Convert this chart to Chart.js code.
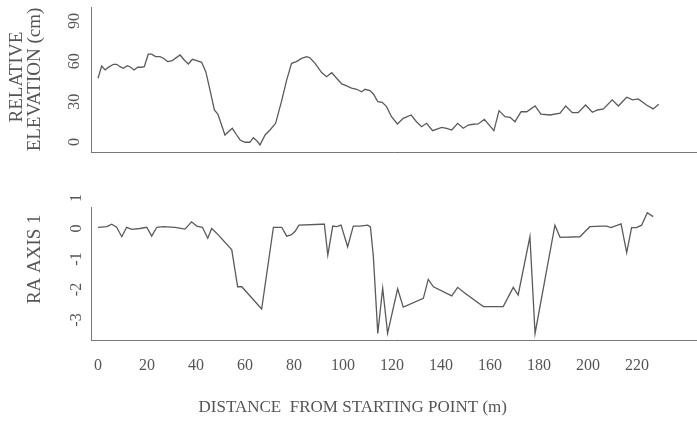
<!DOCTYPE html>
<html><head><meta charset="utf-8">
<script src="https://cdn.jsdelivr.net/npm/chart.js@4.4.1/dist/chart.umd.min.js"></script>
<style>
html,body{margin:0;padding:0;background:#fff;}
#wrap{position:relative;width:697px;height:422px;overflow:hidden;}
#c1{position:absolute;left:0;top:0;}
#c2{position:absolute;left:0;top:180px;}
</style></head><body>
<div id="wrap"><canvas id="c1" width="697" height="160"></canvas><canvas id="c2" width="697" height="242"></canvas></div>
<script>
// Top panel: relative elevation (cm) vs distance (m)
const distElev = [0,1.5,2.9,4.2,6.3,7.6,9.0,10.3,12.0,13.3,14.7,16.2,17.6,18.9,20.5,21.9,23.5,25.3,26.7,28.4,30.3,33.5,35.2,36.9,38.5,40.3,42.3,44.0,45.7,47.5,48.9,50.2,51.8,54.8,56.6,58.0,60.0,62.0,63.4,64.8,66.1,68.2,70.2,72.5,75.0,77.0,79.0,81.0,83.1,85.2,86.5,88.6,91.3,93.3,95.4,97.4,99.5,101.5,103.5,105.6,107.6,109.0,111.0,112.4,114.2,116.0,117.8,119.8,122.2,124.6,127.8,130.0,132.1,134.1,136.6,140.3,142.3,144.4,146.8,149.1,151.1,153.2,155.2,157.7,161.6,163.7,166.1,168.2,170.2,172.7,175.0,178.4,180.8,184.5,188.6,190.9,193.6,196.0,199.0,201.8,203.9,206.3,209.9,212.4,215.8,218.2,220.5,223.9,226.6,228.9];
const elevation = [47.4,56.5,53.6,55.5,57.8,57.8,56.0,54.8,56.8,55.6,53.6,55.6,55.6,56.0,65.3,65.3,63.5,63.5,62.3,59.8,60.5,64.7,61.0,58.0,61.5,60.5,59.3,52.3,38.7,23.8,20.8,13.9,5.2,10.2,5.2,1.5,-0.2,-0.2,3.2,1.0,-2.2,5.2,8.9,13.9,31.0,46.0,58.5,59.8,62.2,63.5,62.7,58.5,51.6,48.6,51.6,47.4,43.2,41.7,40.0,39.2,37.4,39.2,38.2,35.7,30.0,29.5,26.3,18.8,13.4,17.6,20.1,15.1,11.4,13.9,8.4,10.9,10.2,8.9,13.9,10.2,12.6,13.2,13.4,16.9,8.4,23.3,18.8,18.4,15.1,22.5,22.5,26.8,20.8,20.1,21.4,26.8,21.8,21.8,27.5,22.1,23.8,24.6,31.3,26.8,33.3,31.3,32.0,27.5,24.6,28.0];

// Bottom panel: RA axis 1 vs distance (m)
const distRA = [0,3.6,5.6,7.6,9.7,11.7,13.8,17.1,19.9,21.9,24.0,26.7,31.4,35.5,38.2,40.3,42.6,44.8,46.4,49.1,54.6,57.0,58.7,66.8,71.6,75.0,77.0,78.8,80.4,82.0,91.3,92.4,93.8,95.8,97.4,99.2,101.9,104.2,106.9,110.1,111.2,112.4,114.2,116.2,118.2,122.3,124.6,132.8,134.8,136.9,144.4,146.8,149.8,157.3,165.4,169.5,171.5,176.3,178.4,186.5,188.6,196.7,198.8,200.8,205.6,207.6,209.4,213.5,215.8,217.8,219.8,221.9,224.2,226.6];
const raAxis1 = [0.04,0.06,0.14,0.04,-0.27,0.04,-0.03,0.0,0.04,-0.25,0.04,0.06,0.04,-0.02,0.22,0.08,0.04,-0.32,0.0,-0.21,-0.7,-1.91,-1.91,-2.64,0.04,0.04,-0.25,-0.21,-0.1,0.11,0.14,0.14,-0.87,0.08,0.06,0.11,-0.6,0.08,0.08,0.11,0.05,-0.92,-3.44,-1.96,-3.44,-1.98,-2.58,-2.29,-1.67,-1.91,-2.21,-1.93,-2.12,-2.56,-2.56,-1.93,-2.18,-0.27,-3.44,0.11,-0.29,-0.27,-0.1,0.06,0.08,0.08,0.03,0.15,-0.79,0.03,0.03,0.11,0.52,0.39];

// Tick labels
const xTicks = [0,20,40,60,80,100,120,140,160,180,200,220];
const elevTicks = [0,30,60,90];
const raTicks = [-3,-2,-1,0,1];

const FAM = "'Liberation Serif', 'DejaVu Serif', serif";
const TXT = '#555';
const AX = '#777';
const LINE = '#5a5a5a';
const X_MIN = -2.86, X_MAX = 244.5;

function series(xs, ys){ return xs.map((d,i)=>({x:d, y:ys[i]})); }
function setTicks(vals){ return s => { s.ticks = vals.map(v=>({value:v})); }; }
function fitY(s){ s.width = 91; s.paddingTop = 0; s.paddingBottom = 0; }
function fitX(h){ return s => { s.height = h; s.paddingLeft = 0; s.paddingRight = 0; }; }

new Chart(document.getElementById('c1'), {
  type: 'line',
  data: { datasets: [{ data: series(distElev, elevation), borderColor: LINE, borderWidth: 1.3, pointRadius: 0, tension: 0, fill: false }] },
  options: {
    responsive: false, animation: false,
    layout: { padding: { top: 7, left: 0, right: 0, bottom: 0 } },
    plugins: { legend: { display: false }, tooltip: { enabled: false } },
    scales: {
      x: { type: 'linear', min: X_MIN, max: X_MAX,
           grid: { display: false, drawTicks: false },
           border: { display: true, color: AX, width: 1 },
           ticks: { display: false },
           afterFit: fitX(8) },
      y: { min: -7.44, max: 100.4,
           afterBuildTicks: setTicks(elevTicks),
           grid: { display: false, drawTicks: false },
           border: { display: true, color: AX, width: 1 },
           ticks: { minRotation: 90, maxRotation: 90, crossAlign: 'center', padding: 8, autoSkip: false,
                    font: { family: FAM, size: 16 }, color: TXT },
           title: { display: true, text: [' RELATIVE', 'ELEVATION (cm)'],
                    font: { family: FAM, size: 19, lineHeight: 0.95 }, color: TXT,
                    padding: { top: 8, bottom: 0 } },
           afterFit: fitY }
    }
  }
});

new Chart(document.getElementById('c2'), {
  type: 'line',
  data: { datasets: [{ data: series(distRA, raAxis1), borderColor: LINE, borderWidth: 1.3, pointRadius: 0, tension: 0, fill: false }] },
  options: {
    responsive: false, animation: false,
    layout: { padding: { top: 27, left: 0, right: 0, bottom: 0 } },
    plugins: {
      legend: { display: false }, tooltip: { enabled: false },
      title: { display: true, position: 'bottom', text: '  DISTANCE  FROM STARTING POINT (m)',
               font: { family: FAM, size: 17, weight: 'normal' }, color: TXT,
               padding: { top: 0, bottom: 4 } }
    },
    scales: {
      x: { type: 'linear', min: X_MIN, max: X_MAX,
           afterBuildTicks: setTicks(xTicks),
           grid: { display: false, drawTicks: false },
           border: { display: true, color: AX, width: 1 },
           ticks: { padding: 16, autoSkip: false, maxRotation: 0, font: { family: FAM, size: 16 }, color: TXT },
           afterFit: fitX(57.6) },
      y: { min: -3.656, max: 0.705,
           afterBuildTicks: setTicks(raTicks),
           grid: { display: false, drawTicks: false },
           border: { display: true, color: AX, width: 1 },
           ticks: { minRotation: 90, maxRotation: 90, crossAlign: 'center', padding: 8, autoSkip: false,
                    font: { family: FAM, size: 16 }, color: TXT },
           title: { display: true, text: '      RA AXIS 1',
                    font: { family: FAM, size: 19, lineHeight: 0.95 }, color: TXT,
                    padding: { top: 26, bottom: 0 } },
           afterFit: fitY }
    }
  }
});
</script>
</body></html>
